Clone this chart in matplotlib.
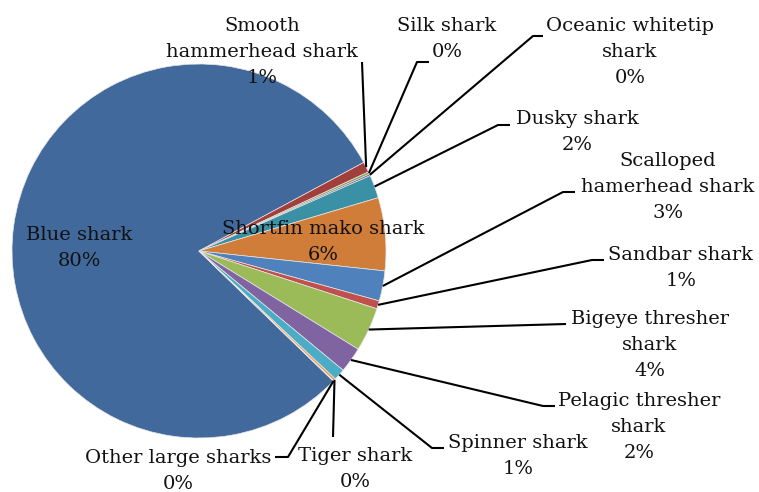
import numpy as np
import matplotlib
matplotlib.use("Agg")
import matplotlib.pyplot as plt

# shark catch composition (%)
species = ["Blue shark", "Smooth hammerhead shark", "Silk shark",
           "Oceanic whitetip shark", "Dusky shark", "Shortfin mako shark",
           "Scalloped hamerhead shark", "Sandbar shark", "Bigeye thresher shark",
           "Pelagic thresher shark", "Spinner shark", "Tiger shark",
           "Other large sharks"]
share = [79.9, 0.9, 0.2, 0.15, 2.0, 6.3, 2.6, 0.7, 3.8, 2.2, 1.0, 0.2, 0.05]
label_names = ["Blue shark", "Smooth\nhammerhead shark", "Silk shark",
               "Oceanic whitetip\nshark", "Dusky shark", "Shortfin mako shark",
               "Scalloped\nhamerhead shark", "Sandbar shark",
               "Bigeye thresher\nshark", "Pelagic thresher\nshark",
               "Spinner shark", "Tiger shark", "Other large sharks"]
colors = ["#41699b", "#a23f3d", "#86a64c", "#6e5891", "#3a90a5", "#d17d3a",
          "#4f81bd", "#c0504d", "#9bbb59", "#8064a2", "#4bacc6", "#f79646",
          "#7f9fcf"]

W, H = 759, 492
fig = plt.figure(figsize=(W / 100, H / 100), dpi=100)
ax = fig.add_axes([0, 0, 1, 1])

def P(x, y):
    # pixel position (top-left origin) -> data coords
    return x, H - y

cx, cy = P(199, 251)
R = 187
wedges, _ = ax.pie(share, colors=colors, startangle=-44.1, counterclock=False,
                   center=(cx, cy), radius=R,
                   wedgeprops=dict(edgecolor="#e6e6e6", linewidth=0.5))

# label block centres and leader line bends
label_pos = [(79, 246), (262, 50), (447, 37), (630, 50), (577, 130), (323, 240),
             (668, 185), (681, 266), (650, 343), (639, 425), (518, 454),
             (355, 467), (178, 469)]
leaders = [None, [(362, 62)], [(417, 62), (429, 62)], [(533, 36), (543, 36)],
           [(498, 125), (510, 125)], None, [(563, 192), (575, 192)],
           [(592, 260), (604, 260)], [(566, 324)], [(543, 406), (555, 406)],
           [(432, 448), (444, 448)], [(333, 437)], [(288, 457), (275, 457)]]
pitch = 25.7

total = sum(share)
for w, name, v, pos, lead in zip(wedges, label_names, share, label_pos, leaders):
    pct = "%.0f%%" % (v / total * 100)
    lines = name.split("\n") + [pct]
    y0 = pos[1] - pitch * (len(lines) - 1) / 2
    for i, s in enumerate(lines):
        tx, ty = P(pos[0], y0 + i * pitch)
        ax.text(tx, ty, s, ha="center", va="center_baseline",
                fontsize=14, family="DejaVu Serif", color="#111111")
    if lead is None:
        continue
    mid = np.deg2rad((w.theta1 + w.theta2) / 2)
    xs = [cx + R * np.cos(mid)] + [P(*p)[0] for p in lead]
    ys = [cy + R * np.sin(mid)] + [P(*p)[1] for p in lead]
    ax.plot(xs, ys, color="black", linewidth=1.5, solid_capstyle="butt")

ax.set_aspect("auto")
ax.set_xlim(0, W)
ax.set_ylim(0, H)
ax.axis("off")
fig.savefig("out.png", dpi=100)
